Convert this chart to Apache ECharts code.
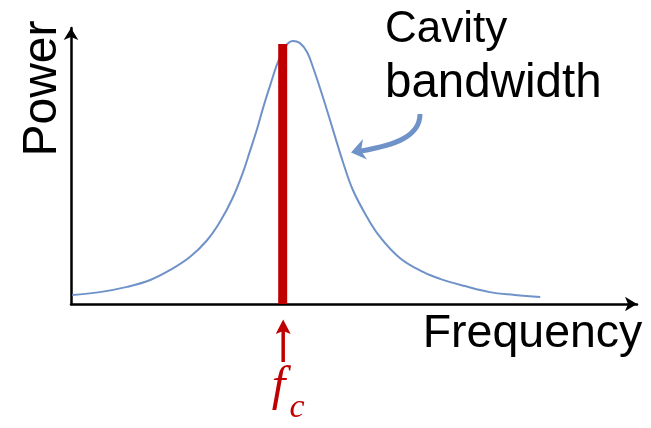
<!DOCTYPE html>
<html>
<head>
<meta charset="utf-8">
<script src="https://cdn.jsdelivr.net/npm/echarts@6/dist/echarts.min.js"></script>
<style>
html,body{margin:0;padding:0;background:#fff;}
#chart{width:651px;height:428px;}
</style>
</head>
<body>
<div id="chart"></div>
<script>
// ---- data (arbitrary units) ----
const frequency = [0.2, 5.1, 9.9, 14.0, 17.5, 21.0, 24.0, 26.3, 28.6, 30.4, 31.6, 32.9, 33.9, 35.2, 36.4, 37.5, 38.3, 39.2, 40.4, 41.7, 42.8, 44.5, 46.3, 48.1, 49.8, 52.3, 54.6, 58.1, 62.2, 65.2, 69.6, 74.0, 78.4, 82.9];
const power     = [3.3, 4.3, 6.2, 8.7, 12.3, 17.0, 23.0, 29.7, 38.6, 47.8, 55.3, 63.6, 70.8, 79.3, 86.8, 91.8, 94.4, 95.3, 94.6, 91.3, 85.5, 75.0, 63.0, 51.1, 41.3, 31.5, 24.3, 16.7, 11.6, 9.1, 6.5, 4.3, 3.3, 2.5];
const carrierFreq = [37.4, 37.4];
const carrierPower = [0, 94.2];
const yLabel = 'Power';
const xLabel = 'Frequency';
const annotLine1 = 'Cavity';
const annotLine2 = 'bandwidth';
const fcMain = 'f';
const fcSub = 'c';

const BLUE = '#6f92c9';
const RED = '#c00000';

const chart = echarts.init(document.getElementById('chart'));

function axisCommon() {
  return {
    type: 'value', min: 0, max: 100,
    axisLine: { show: true, symbol: ['none', 'arrow'], symbolSize: [11, 12],
      lineStyle: { color: '#000', width: 2.5 } },
    axisTick: { show: false }, axisLabel: { show: false }, splitLine: { show: false }
  };
}

chart.setOption({
  animation: false,
  backgroundColor: '#fff',
  grid: { left: 71, right: 14, top: 28, bottom: 124 },
  xAxis: axisCommon(),
  yAxis: axisCommon(),
  series: [
    { type: 'line', smooth: 0.4, showSymbol: false, silent: true,
      data: frequency.map((f, i) => [f, power[i]]),
      lineStyle: { color: BLUE, width: 2 }, z: 2 },
    { type: 'line', showSymbol: false, silent: true,
      data: carrierFreq.map((f, i) => [f, carrierPower[i]]),
      lineStyle: { color: RED, width: 9, cap: 'butt' }, z: 3 }
  ]
});

const fcPx = chart.convertToPixel({ gridIndex: 0 }, [carrierFreq[0], 0]);
const ax = fcPx[0] + 0.5;

chart.setOption({
  graphic: [
    { type: 'text', x: 42.5, y: 88.5, rotation: Math.PI / 2,
      style: { text: yLabel, font: '48px "Liberation Sans", Arial, sans-serif', fill: '#000',
        textAlign: 'center', textVerticalAlign: 'middle' } },
    { type: 'text', x: 532.5, y: 334,
      style: { text: xLabel, font: '46.5px "Liberation Sans", Arial, sans-serif', fill: '#000',
        textAlign: 'center', textVerticalAlign: 'middle' } },
    { type: 'text', x: 385, y: 30,
      style: { text: annotLine1, font: '44px "Liberation Sans", Arial, sans-serif', fill: '#000',
        textAlign: 'left', textVerticalAlign: 'middle' } },
    { type: 'text', x: 385, y: 83.5,
      style: { text: annotLine2, font: '47.5px "Liberation Sans", Arial, sans-serif', fill: '#000',
        textAlign: 'left', textVerticalAlign: 'middle' } },
    { type: 'text', x: 278.5, y: 387,
      style: { text: fcMain, font: 'italic 49px "Liberation Serif", "Times New Roman", serif', fill: RED,
        textAlign: 'center', textVerticalAlign: 'middle' } },
    { type: 'text', x: 297, y: 408.5,
      style: { text: fcSub, font: 'italic 34px "Liberation Serif", "Times New Roman", serif', fill: RED,
        textAlign: 'center', textVerticalAlign: 'middle' } },
    // red up arrow under carrier
    { type: 'line', shape: { x1: ax, y1: 331, x2: ax, y2: 362 },
      style: { stroke: RED, lineWidth: 3.5 } },
    { type: 'polygon', shape: { points: [[ax, 319.5], [ax + 7.5, 334], [ax, 331], [ax - 7.5, 334]] },
      style: { fill: RED } },
    // blue curved arrow
    { type: 'bezierCurve', shape: { x1: 420, y1: 114, cpx1: 420, cpy1: 136, cpx2: 396, cpy2: 145, x2: 361, y2: 151 },
      style: { stroke: BLUE, lineWidth: 5, fill: null } },
    { type: 'polygon', shape: { points: [[351, 152.5], [363, 139], [361, 151], [367, 159.5]] },
      style: { fill: BLUE } }
  ]
});
</script>
</body>
</html>
